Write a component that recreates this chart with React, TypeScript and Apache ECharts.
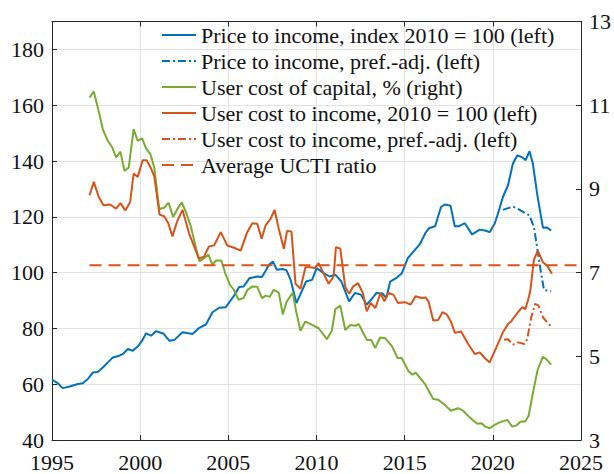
import React, { useEffect, useRef } from "react";
import * as echarts from "echarts";

// [decimal year, value]
const priceToIncome: [number, number][] = [
  [1995.0, 61.6], [1995.3, 60.5], [1995.6, 58.6], [1996.0, 59.2], [1996.47, 60.1], [1996.75, 60.3],
  [1997.05, 62.0], [1997.32, 64.2], [1997.6, 64.4], [1997.88, 66.0], [1998.2, 68.0], [1998.45, 69.6],
  [1998.82, 70.2], [1999.05, 71.0], [1999.3, 72.6], [1999.58, 72.0], [1999.86, 73.5], [2000.1, 75.5],
  [2000.33, 78.2], [2000.62, 77.4], [2000.9, 79.0], [2001.31, 78.2], [2001.65, 75.6], [2001.93, 75.8],
  [2002.4, 78.6], [2002.97, 78.0], [2003.35, 80.2], [2003.73, 81.4], [2004.1, 85.8], [2004.48, 87.4],
  [2004.86, 87.6], [2005.33, 91.8], [2005.61, 94.8], [2005.86, 95.0], [2006.2, 98.0], [2006.64, 98.6],
  [2006.91, 98.4], [2007.31, 102.8], [2007.53, 104.0], [2007.75, 101.0], [2008.08, 101.3], [2008.3, 100.8],
  [2008.53, 97.4], [2008.86, 89.1], [2009.08, 92.1], [2009.41, 96.8], [2009.75, 97.4], [2010.01, 101.6],
  [2010.41, 99.8], [2010.74, 98.6], [2011.08, 99.2], [2011.41, 96.8], [2011.85, 89.7], [2012.18, 92.7],
  [2012.52, 92.1], [2012.85, 88.5], [2013.18, 90.9], [2013.4, 92.7], [2013.74, 92.5], [2013.96, 90.9],
  [2014.18, 96.8], [2014.51, 98.0], [2014.84, 99.8], [2015.18, 105.2], [2015.51, 107.6], [2015.84, 110.0],
  [2016.18, 114.2], [2016.4, 116.0], [2016.73, 116.6], [2017.06, 123.5], [2017.28, 124.4], [2017.6, 124.0],
  [2017.84, 116.6], [2018.06, 116.6], [2018.41, 117.7], [2018.82, 113.7], [2019.26, 115.4], [2019.55, 115.1],
  [2019.82, 114.5], [2020.1, 117.5], [2020.29, 121.1], [2020.57, 127.1], [2020.86, 131.3], [2021.14, 139.1],
  [2021.38, 142.0], [2021.65, 141.4], [2021.86, 140.3], [2022.08, 143.5], [2022.27, 139.1], [2022.51, 128.3],
  [2022.84, 116.1], [2023.05, 116.2], [2023.31, 115.1],
];

const priceToIncomeAdj: [number, number][] = [
  [2020.57, 122.5], [2021.14, 123.7], [2021.52, 122.5], [2021.89, 121.1], [2022.08, 120.5],
  [2022.33, 116.3], [2022.51, 109.1], [2022.71, 100.8], [2022.9, 93.8], [2023.31, 93.3],
];

const userCostOfCapital: [number, number][] = [
  [1997.13, 11.18], [1997.37, 11.33], [1997.6, 10.94], [1997.88, 10.43], [1998.16, 10.15], [1998.41, 10.0],
  [1998.64, 9.75], [1998.88, 9.89], [1999.11, 9.43], [1999.35, 9.51], [1999.63, 10.43], [1999.86, 10.15],
  [2000.11, 10.21], [2000.33, 9.97], [2000.58, 9.83], [2000.8, 9.51], [2001.08, 8.52], [2001.36, 8.55],
  [2001.61, 8.67], [2001.87, 8.33], [2002.1, 8.51], [2002.36, 8.68], [2002.61, 8.43], [2002.87, 8.11],
  [2003.14, 7.63], [2003.36, 7.27], [2003.65, 7.35], [2003.87, 7.43], [2004.09, 7.19], [2004.31, 7.29],
  [2004.6, 7.29], [2004.82, 6.99], [2005.09, 6.71], [2005.31, 6.59], [2005.58, 6.35], [2005.86, 6.39],
  [2006.09, 6.59], [2006.37, 6.67], [2006.64, 6.66], [2006.91, 6.39], [2007.13, 6.45], [2007.35, 6.42],
  [2007.57, 6.59], [2007.86, 6.52], [2008.09, 6.0], [2008.3, 6.3], [2008.65, 6.52], [2008.84, 6.09],
  [2009.09, 5.61], [2009.37, 5.83], [2009.75, 5.75], [2010.12, 5.67], [2010.59, 5.41], [2010.87, 5.61],
  [2011.07, 6.13], [2011.35, 6.21], [2011.63, 5.63], [2011.92, 5.75], [2012.2, 5.73], [2012.39, 5.77],
  [2012.86, 5.39], [2013.1, 5.39], [2013.33, 5.2], [2013.61, 5.45], [2013.9, 5.43], [2014.27, 5.25],
  [2014.6, 4.96], [2014.83, 4.96], [2015.21, 4.65], [2015.44, 4.56], [2015.62, 4.61], [2016.15, 4.34],
  [2016.62, 3.98], [2016.9, 3.96], [2017.28, 3.84], [2017.62, 3.7], [2018.03, 3.76], [2018.31, 3.7],
  [2018.69, 3.54], [2019.12, 3.39], [2019.35, 3.4], [2019.58, 3.32], [2019.82, 3.28], [2020.1, 3.36],
  [2020.39, 3.42], [2020.82, 3.48], [2021.1, 3.32], [2021.35, 3.35], [2021.58, 3.44], [2021.84, 3.44],
  [2022.03, 3.58], [2022.33, 4.25], [2022.55, 4.69], [2022.84, 4.99], [2023.08, 4.91], [2023.31, 4.8],
];

const userCostToIncome: [number, number][] = [
  [1997.13, 127.7], [1997.37, 132.5], [1997.65, 127.1], [1997.92, 124.1], [1998.3, 124.4], [1998.64, 122.9],
  [1998.88, 124.9], [1999.16, 122.3], [1999.43, 125.3], [1999.63, 135.5], [1999.86, 134.3], [2000.14, 140.3],
  [2000.37, 140.3], [2000.62, 137.3], [2000.8, 134.5], [2001.1, 120.8], [2001.36, 120.2], [2001.59, 117.8],
  [2001.83, 113.0], [2002.1, 118.4], [2002.4, 122.5], [2002.78, 113.9], [2003.34, 104.9], [2003.63, 105.8],
  [2003.9, 109.4], [2004.19, 109.7], [2004.57, 114.5], [2004.94, 109.7], [2005.32, 108.9], [2005.7, 107.9],
  [2006.07, 114.5], [2006.36, 117.7], [2006.64, 117.5], [2006.89, 112.1], [2007.11, 116.9], [2007.4, 119.3],
  [2007.62, 122.5], [2007.86, 115.7], [2008.15, 108.5], [2008.33, 114.9], [2008.58, 114.7], [2008.81, 96.0],
  [2009.09, 94.2], [2009.37, 101.9], [2009.66, 101.9], [2009.9, 101.6], [2010.12, 103.4], [2010.41, 99.6],
  [2010.69, 96.0], [2010.97, 98.6], [2011.1, 109.1], [2011.35, 108.6], [2011.63, 94.8], [2011.86, 92.4],
  [2012.07, 95.0], [2012.36, 96.2], [2012.63, 92.7], [2012.85, 86.1], [2013.07, 89.1], [2013.34, 87.3],
  [2013.63, 92.7], [2013.85, 89.7], [2014.07, 92.7], [2014.36, 92.1], [2014.62, 89.1], [2015.02, 89.4],
  [2015.33, 88.5], [2015.62, 91.5], [2015.95, 90.9], [2016.18, 91.1], [2016.35, 89.7], [2016.62, 82.8],
  [2016.9, 83.0], [2017.14, 85.8], [2017.39, 85.0], [2017.62, 82.5], [2017.85, 78.4], [2018.2, 78.9],
  [2018.6, 74.4], [2018.98, 70.8], [2019.26, 71.4], [2019.54, 69.4], [2019.82, 67.8], [2020.2, 73.2],
  [2020.57, 78.6], [2020.86, 81.6], [2021.05, 82.6], [2021.42, 85.8], [2021.67, 87.6], [2021.84, 86.9],
  [2021.99, 90.0], [2022.12, 93.3], [2022.33, 104.6], [2022.55, 107.9], [2022.84, 103.7], [2023.08, 102.5],
  [2023.35, 99.6],
];

const userCostToIncomeAdj: [number, number][] = [
  [2020.63, 75.9], [2020.86, 76.1], [2021.14, 74.2], [2021.42, 75.0], [2021.8, 74.4], [2021.95, 76.2],
  [2022.18, 84.0], [2022.4, 88.8], [2022.59, 88.2], [2022.84, 84.0], [2023.08, 82.2], [2023.31, 80.6],
];

const averageUcti: [number, number][] = [[1997.13, 102.6], [2025, 102.6]];

const seriesNames = [
  "Price to income, index 2010 = 100 (left)",
  "Price to income, pref.-adj. (left)",
  "User cost of capital, % (right)",
  "User cost to income, 2010 = 100 (left)",
  "User cost to income, pref.-adj. (left)",
  "Average UCTI ratio",
];

const BLUE = "#0072BD";
const ORANGE = "#D95319";
const GREEN = "#77AC30";
const FONT = "Liberation Serif";
const AXIS = "#262626";
const GRID = "#e2e2e2";

export default function App() {
  const ref = useRef<HTMLDivElement>(null);
  useEffect(() => {
    if (!ref.current) return;
    const chart = echarts.init(ref.current, undefined, { renderer: "svg" });
    const labelStyle = { fontSize: 22, fontFamily: FONT, color: "#111", lineHeight: 18 };
    const yLabelStyle = { fontSize: 22, fontFamily: FONT, color: "#111", lineHeight: 14 };
    const line = (name: string, data: [number, number][], color: string, type: any, yAxisIndex = 0) => ({
      name,
      type: "line",
      data,
      yAxisIndex,
      symbol: "none",
      color,
      lineStyle: { color, width: 2, type },
      z: 3,
    });
    chart.setOption({
      animation: false,
      backgroundColor: "#fff",
      textStyle: { fontFamily: FONT },
      grid: { left: 52, right: 31, top: 21.5, bottom: 34, containLabel: false },
      legend: {
        orient: "vertical",
        left: 161,
        top: 24,
        padding: 0,
        itemWidth: 34,
        itemHeight: 14,
        itemGap: 4,
        data: seriesNames,
        itemStyle: { opacity: 0 },
        textStyle: { fontSize: 22, fontFamily: FONT, color: "#111", lineHeight: 22 },
      },
      xAxis: [
        {
          type: "value",
          min: 1995,
          max: 2025,
          interval: 5,
          position: "bottom",
          axisLine: { show: true, onZero: false, lineStyle: { color: AXIS, width: 1 } },
          axisTick: { show: true, inside: true, length: 5, lineStyle: { color: AXIS } },
          axisLabel: { ...labelStyle, margin: 13, formatter: (v: number) => String(v) },
          splitLine: { show: true, lineStyle: { color: GRID, width: 1 } },
        },
        {
          type: "value",
          min: 1995,
          max: 2025,
          interval: 5,
          position: "top",
          axisLine: { show: true, onZero: false, lineStyle: { color: AXIS, width: 1 } },
          axisTick: { show: true, inside: true, length: 5, lineStyle: { color: AXIS } },
          axisLabel: { show: false },
          splitLine: { show: false },
        },
      ],
      yAxis: [
        {
          type: "value",
          min: 40,
          max: 190,
          interval: 20,
          position: "left",
          axisLine: { show: true, onZero: false, lineStyle: { color: AXIS, width: 1 } },
          axisTick: { show: true, inside: true, length: 5, lineStyle: { color: AXIS } },
          axisLabel: { ...yLabelStyle, margin: 8, showMaxLabel: false, formatter: (v: number) => String(v) },
          splitLine: { show: true, lineStyle: { color: GRID, width: 1 } },
        },
        {
          type: "value",
          min: 3,
          max: 13,
          interval: 2,
          position: "right",
          axisLine: { show: true, onZero: false, lineStyle: { color: AXIS, width: 1 } },
          axisTick: { show: true, inside: true, length: 5, lineStyle: { color: AXIS } },
          axisLabel: { ...yLabelStyle, margin: 8, formatter: (v: number) => String(v) },
          splitLine: { show: false },
        },
      ],
      series: [
        line(seriesNames[0], priceToIncome, BLUE, "solid"),
        line(seriesNames[1], priceToIncomeAdj, BLUE, [8, 3, 2, 3]),
        line(seriesNames[2], userCostOfCapital, GREEN, "solid", 1),
        line(seriesNames[3], userCostToIncome, ORANGE, "solid"),
        line(seriesNames[4], userCostToIncomeAdj, ORANGE, [8, 3, 2, 3]),
        line(seriesNames[5], averageUcti, ORANGE, [12, 7]),
      ],
    });
    return () => chart.dispose();
  }, []);
  return (
    <div
      ref={ref}
      style={{ position: "fixed", left: 0, top: 0, width: 614, height: 474, background: "#fff" }}
    />
  );
}
